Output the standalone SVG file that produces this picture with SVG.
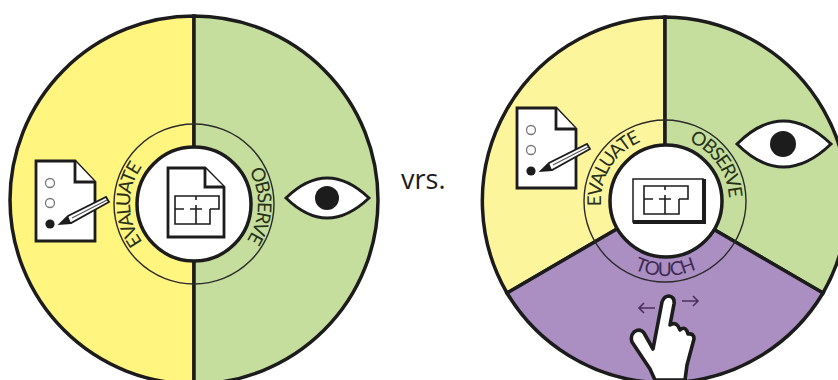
<svg xmlns="http://www.w3.org/2000/svg" width="838" height="380" viewBox="0 0 838 380">
<style>
.o{stroke:#1c1c1c;stroke-width:3.5;stroke-linejoin:miter}
.w{fill:#fff}
.ring{fill:none;stroke:#2a2a2a;stroke-width:1.4}
.t{font-family:"Lato","Open Sans",sans-serif;font-size:19px;text-anchor:middle;font-weight:400;letter-spacing:-1.6px}
.pl{fill:none;stroke:#1c1c1c;stroke-width:1.6}
.doc{fill:#fff;stroke:#1c1c1c;stroke-width:2.8}
</style>
<defs>
<path id="top" d="M-64 0A64 64 0 0 1 64 0"/>
<path id="bot" d="M-75 0A75 75 0 0 0 75 0"/>
<g id="plan">
<path class="pl" d="M0 10V0H44V13H35M35 13V28H0V10M0 13H9M15 13H27M21 0V4M21 9V28"/>
</g>
<g id="evalicon">
<path class="doc" d="M36 161H75L95 182V241H36Z"/>
<path class="doc" d="M75 161V182H95"/>
<circle cx="50" cy="183" r="4.500" fill="#fff" stroke="#777" stroke-width="1.300"/>
<circle cx="50" cy="203" r="4.500" fill="#fff" stroke="#777" stroke-width="1.300"/>
<circle cx="50" cy="224" r="4.600" fill="#1c1c1c"/>
<path d="M60 224L68 216L106 197L109 202L71 223Z" fill="#fff" stroke="#1c1c1c" stroke-width="1.800"/>
<path d="M60 224L68 216L71 223Z" fill="#1c1c1c"/>
<path d="M72 218L107 200" stroke="#555" stroke-width="1.200"/>
</g>
</defs>
<rect width="838" height="380" fill="#fff"/>
<g id="left-evaluate">
<path class="o" d="M194 16A184 184 0 0 0 194 384Z" fill="#fff57f"/>
<use href="#evalicon"/>
</g>
<g id="left-observe">
<path class="o" d="M194 16A184 184 0 0 1 194 384Z" fill="#c5de9d"/>
<path d="M286 198Q327 158 369 198Q327 238 286 198Z" fill="#fff" stroke="#1c1c1c" stroke-width="3"/>
<circle cx="327" cy="198" r="12" fill="#1c1c1c"/>
</g>
<g id="left-centre">
<circle class="ring" cx="194" cy="204" r="80"/>
<circle class="o w" cx="194" cy="204" r="57"/>
<path class="doc" d="M168 168H205L224 187V237H168Z"/>
<path class="doc" d="M205 168V187H224" fill="none"/>
<use href="#plan" transform="translate(175 196)"/>
<text class="t" fill="#26301a" transform="translate(194 204) rotate(-91)"><textPath href="#top" startOffset="50%">EVALUATE</textPath></text>
<text class="t" fill="#26301a" style="letter-spacing:-1.8px" transform="translate(194 204) rotate(91)"><textPath href="#top" startOffset="50%">OBSERVE</textPath></text>
</g>
<text id="vrs" x="401" y="189" font-family="Open Sans,sans-serif" font-size="27" fill="#1c1c1c">vrs.</text>
<g id="right-evaluate">
<path class="o" d="M665 17A184 184 0 0 0 507 293L665 201Z" fill="#fdf59b"/>
<use href="#evalicon" transform="translate(481 -53)"/>
</g>
<g id="right-observe">
<path class="o" d="M665 17A184 184 0 0 1 823 293L665 201Z" fill="#c5de9d"/>
<path d="M737 144Q783 98 831 144Q783 190 737 144Z" fill="#fff" stroke="#1c1c1c" stroke-width="3"/>
<circle cx="783" cy="144" r="13" fill="#1c1c1c"/>
</g>
<g id="right-touch">
<path class="o" d="M507 293A184 184 0 0 0 823 293L665 201Z" fill="#ab8fc3"/>
<path d="M634 332Q640 328 644 333L653 349L662 302Q664 296 669 296Q675 297 674 304L670 325Q675 322 678 326L680 330Q684 326 687 331L688 334Q694 333 694 339L687 365L685 380H655L650 369L632 342Q630 336 634 332Z" fill="#fff" stroke="#1c1c1c" stroke-width="3.600" stroke-linejoin="round"/>
<path d="M655 308H639M644 303L639 308L644 313M682 301H698M693 296L698 301L693 306" fill="none" stroke="#4a2f5e" stroke-width="1.600"/>
</g>
<g id="right-centre">
<circle class="ring" cx="665" cy="201" r="81"/>
<circle class="o w" cx="666" cy="201" r="56"/>
<rect x="633" y="179" width="70" height="43" fill="#fff" stroke="#1c1c1c" stroke-width="1.500"/>
<path d="M633 222H704V179" fill="none" stroke="#1c1c1c" stroke-width="4"/>
<use href="#plan" transform="translate(644 186)"/>
<text class="t" fill="#26301a" transform="translate(665 201) rotate(-59)"><textPath href="#top" startOffset="50%">EVALUATE</textPath></text>
<text class="t" fill="#26301a" style="letter-spacing:-1.8px" transform="translate(665 201) rotate(54)"><textPath href="#top" startOffset="50%">OBSERVE</textPath></text>
<text class="t" fill="#3d2a52" style="letter-spacing:-0.700px" transform="translate(665 201)"><textPath href="#bot" startOffset="50%">TOUCH</textPath></text>
</g>
</svg>
